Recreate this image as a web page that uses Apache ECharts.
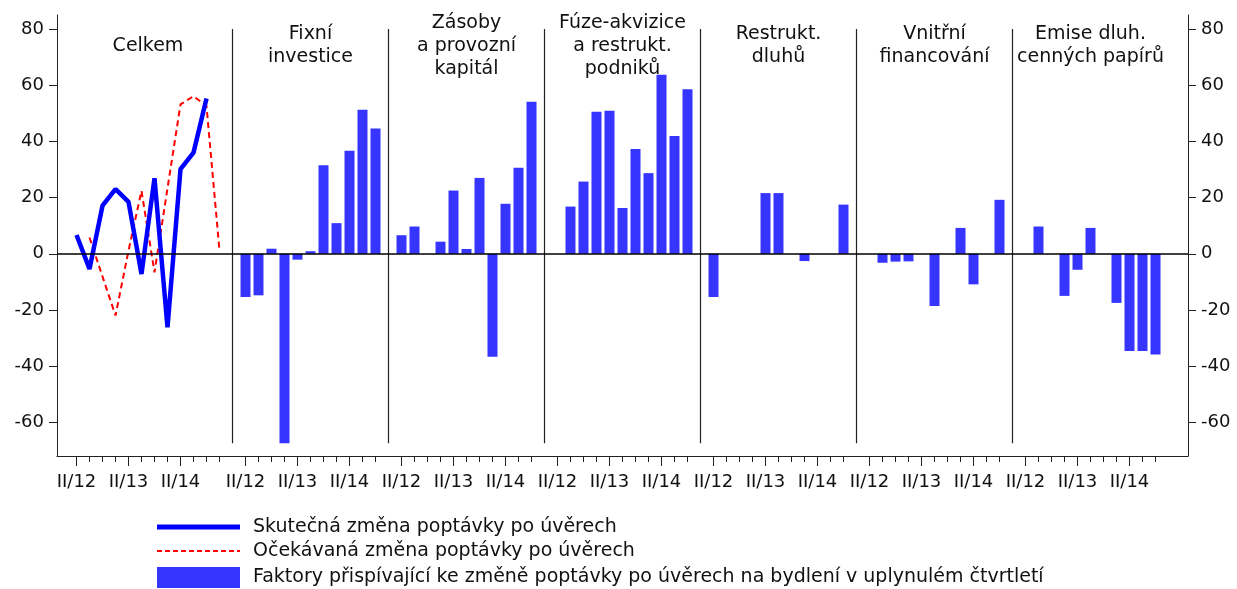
<!DOCTYPE html>
<html>
<head>
<meta charset="utf-8">
<script src="https://cdn.jsdelivr.net/npm/echarts@6/dist/echarts.min.js"></script>
<style>
  html, body { margin: 0; padding: 0; background: #fff; }
  #chart { width: 1237px; height: 589px; }
</style>
</head>
<body>
<div id="chart"></div>
<script>
// quarters shown in each panel (Celkem has one more, I/15, for the expectation)
const quarters = ['II/12', 'III/12', 'IV/12', 'I/13', 'II/13', 'III/13', 'IV/13', 'I/14', 'II/14', 'III/14', 'IV/14', 'I/15'];
const groupNames = ['Celkem', 'Fixní\ninvestice', 'Zásoby\na provozní\nkapitál', 'Fúze-akvizice\na restrukt.\npodniků',
  'Restrukt.\ndluhů', 'Vnitřní\nfinancování', 'Emise dluh.\ncenných papírů'];
const yTicks = [-60, -40, -20, 0, 20, 40, 60, 80];

// Celkem: actual II/12..IV/14, expected III/12..I/15
const actual = [6.7, -5.4, 17.1, 23.0, 18.5, -7.2, 26.9, -26.2, 30.1, 36.0, 55.3];
const expected = [5.8, -8.1, -22.0, 1.1, 22.4, -6.6, 23.3, 53.2, 56.1, 52.6, 1.1];

// factors, II/12..IV/14
const fixniInvestice = [-15.4, -14.8, 1.8, -67.5, -2.1, 0.9, 31.5, 10.9, 36.7, 51.3, 44.6];
const zasoby = [6.6, 9.7, 0, 4.3, 22.5, 1.7, 27.0, -36.7, 17.8, 30.6, 54.1];
const fuze = [0, 16.8, 25.7, 50.6, 50.9, 16.3, 37.3, 28.7, 63.7, 41.9, 58.6];
const restruktDluhu = [-15.4, 0, 0, 0, 21.6, 21.6, 0, -2.6, 0, 0, 17.5];
const vnitrni = [0, -3.2, -2.8, -2.7, 0, -18.6, 0, 9.2, -10.9, 0, 19.2];
const emise = [0, 9.7, 0, -15.0, -5.7, 9.2, 0, -17.5, -34.6, -34.6, -35.9];

const legendNames = ['Skutečná změna poptávky po úvěrech', 'Očekávaná změna poptávky po úvěrech',
  'Faktory přispívající ke změně poptávky po úvěrech na bydlení v uplynulém čtvrtletí'];

const FONT = 'DejaVu Sans';
const TXT = '#111';

// build the category axis: pad, Celkem (12), then separator + 11 quarters for each factor, 2 pads
const factors = [fixniInvestice, zasoby, fuze, restruktDluhu, vnitrni, emise];
const cats = [''];
const starts = [1];
const lens = [12];
quarters.forEach(q => cats.push(q));
const seps = [];
factors.forEach(f => {
  seps.push(cats.length);
  cats.push('');
  starts.push(cats.length);
  lens.push(f.length);
  quarters.slice(0, f.length).forEach(q => cats.push(q));
});
cats.push('', '');

const lineActual = cats.map(() => null);
const lineExpected = cats.map(() => null);
const bars = cats.map(() => null);
actual.forEach((v, i) => { lineActual[starts[0] + i] = v; });
expected.forEach((v, i) => { lineExpected[starts[0] + 1 + i] = v; });
factors.forEach((f, k) => f.forEach((v, i) => { bars[starts[k + 1] + i] = v; }));

const isMajor = (i, v) => /^II\//.test(v);
// tick positions (category indexes)
const majorIdx = [];
const minorIdx = [];
cats.forEach((c, i) => {
  if (c !== '') minorIdx.push(i);
  if (/^II\//.test(c)) majorIdx.push(i);
});

const yAxisFor = pos => ({
  type: 'value', position: pos, min: -72, max: 85,
  axisLine: { show: true, onZero: false, lineStyle: { color: '#222', width: 1 } },
  axisTick: { show: true, length: 8, customValues: yTicks, lineStyle: { color: '#222' } },
  axisLabel: { customValues: yTicks, margin: 13, color: TXT, fontFamily: FONT, fontSize: 18 },
  splitLine: { show: false }
});

var myChart = echarts.init(document.getElementById('chart'));
myChart.setOption({
  animation: false,
  grid: { left: 57, right: 49, top: 15, bottom: 133, containLabel: false, outerBoundsMode: 'none' },
  xAxis: [
    {
      type: 'category', data: cats, position: 'bottom',
      axisLine: { onZero: false, lineStyle: { color: '#222' } },
      axisTick: { show: true, alignWithLabel: true, length: 10, customValues: majorIdx, lineStyle: { color: '#222' } },
      axisLabel: { interval: isMajor, margin: 17, color: TXT, fontFamily: FONT, fontSize: 18 },
      splitLine: { show: false }
    },
    {
      type: 'category', data: cats, position: 'bottom',
      axisLine: { show: false, onZero: false },
      axisTick: { show: true, alignWithLabel: true, length: 6, customValues: minorIdx, lineStyle: { color: '#222' } },
      axisLabel: { show: false },
      splitLine: { show: false }
    }
  ],
  yAxis: [yAxisFor('left'), yAxisFor('right')],
  series: [
    {
      name: legendNames[2], type: 'bar', data: bars, barWidth: 10,
      itemStyle: { color: '#3535FF' },
      markLine: {
        silent: true, symbol: 'none', animation: false,
        label: { show: false },
        lineStyle: { color: '#222', type: 'solid', width: 1.2 },
        data: seps.map(i => [{ xAxis: i, yAxis: 80 }, { xAxis: i, yAxis: -67.5 }])
          .concat([{ yAxis: 0, lineStyle: { color: '#000', width: 1.6, type: 'solid' } }])
      }
    },
    {
      name: legendNames[1], type: 'line', data: lineExpected, symbol: 'none',
      lineStyle: { color: '#FF0000', width: 2, type: [6, 4] }
    },
    {
      name: legendNames[0], type: 'line', data: lineActual, symbol: 'none',
      lineStyle: { color: '#0000FF', width: 4.5 }
    }
  ]
});

// panel titles centred over each panel, legend below the plot
const graphics = groupNames.map((name, k) => {
  const x0 = myChart.convertToPixel({ xAxisIndex: 0 }, starts[k]);
  const x1 = myChart.convertToPixel({ xAxisIndex: 0 }, starts[k] + lens[k] - 1);
  return {
    type: 'text', x: (x0 + x1) / 2, y: 46,
    style: { text: name, font: '19px "DejaVu Sans"', fill: TXT, lineHeight: 23,
      align: 'center', verticalAlign: 'middle', textAlign: 'center', textVerticalAlign: 'middle' }
  };
});
const lgX = 157, lgTextX = 253, lgRows = [527, 551, 577];
graphics.push(
  { type: 'line', shape: { x1: lgX, y1: lgRows[0], x2: lgX + 83, y2: lgRows[0] }, style: { stroke: '#0000FF', lineWidth: 5 } },
  { type: 'line', shape: { x1: lgX, y1: lgRows[1], x2: lgX + 83, y2: lgRows[1] }, style: { stroke: '#FF0000', lineWidth: 2, lineDash: [5, 3] } },
  { type: 'rect', shape: { x: lgX, y: lgRows[2] - 10, width: 83, height: 21 }, style: { fill: '#3535FF' } }
);
legendNames.forEach((t, i) => graphics.push({
  type: 'text', x: lgTextX, y: lgRows[i],
  style: { text: t, font: '19px "DejaVu Sans"', fill: TXT, align: 'left', verticalAlign: 'middle',
    textAlign: 'left', textVerticalAlign: 'middle' }
}));
myChart.setOption({ graphic: graphics });
</script>
</body>
</html>
